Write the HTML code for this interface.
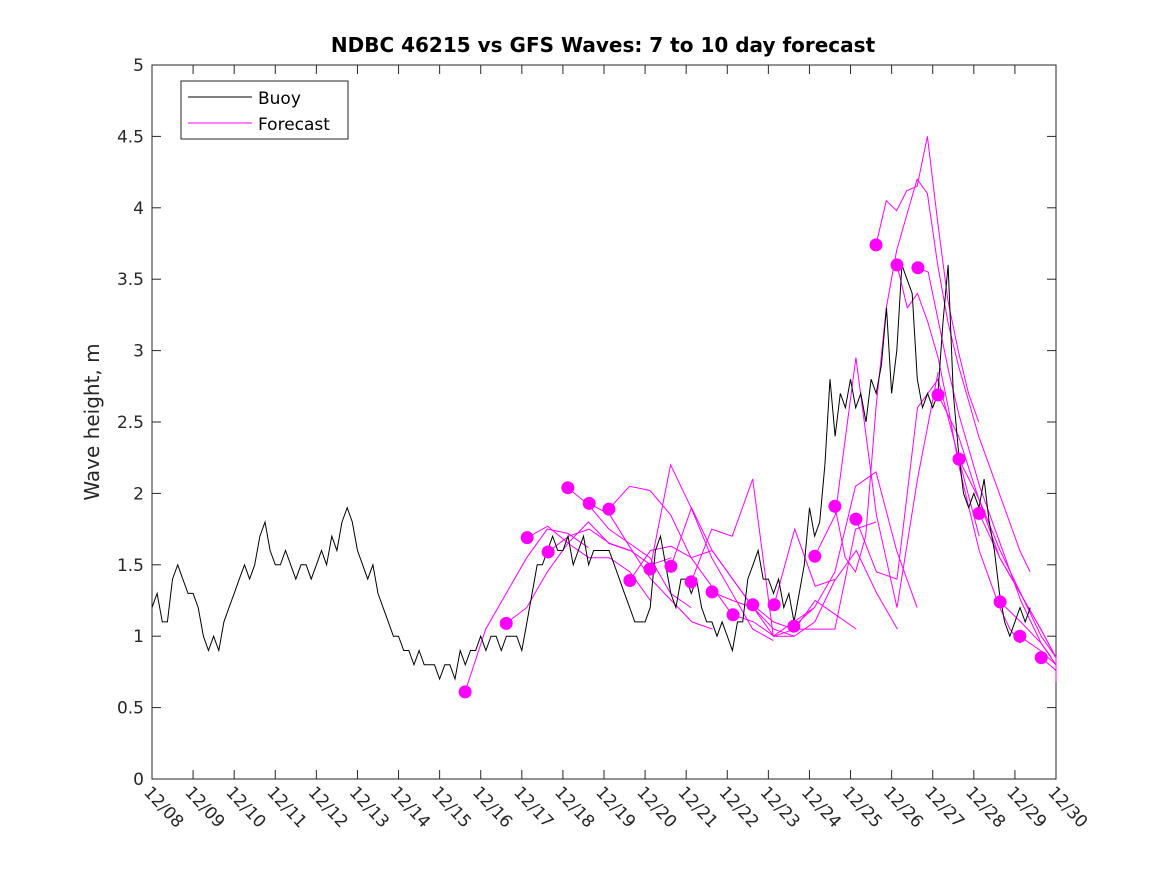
<!DOCTYPE html>
<html><head><meta charset="utf-8"><style>
html,body{margin:0;padding:0;background:#fff;}
svg{display:block;font-family:"DejaVu Sans","Liberation Sans",sans-serif;}
</style></head><body>
<svg id="chart" width="1167" height="875" viewBox="0 0 1167 875">
<rect x="0" y="0" width="1167" height="875" fill="#fff"/>
<rect x="152" y="65" width="904" height="714" fill="#fff" stroke="#262626" stroke-width="1"/>
<g id="axes"></g>
<g id="fc"></g>
<g id="buoy"></g>
<g id="dots"></g>
<text x="603" y="52" text-anchor="middle" font-weight="bold" font-size="20" fill="#000">NDBC 46215 vs GFS Waves: 7 to 10 day forecast</text>
<text transform="translate(99,422) rotate(-90)" text-anchor="middle" font-size="20" fill="#262626">Wave height, m</text>
<g>
<rect x="181" y="81" width="167" height="58" fill="#fff" stroke="#262626" stroke-width="1"/>
<line x1="188" y1="97" x2="252" y2="97" stroke="#000" stroke-width="1"/>
<text x="258" y="104" font-size="17" fill="#000">Buoy</text>
<line x1="188" y1="123" x2="252" y2="123" stroke="#f0f" stroke-width="1"/>
<text x="258" y="130" font-size="17" fill="#000">Forecast</text>
</g>
</svg>
<script>
const xTickLabels=["12/08","12/09","12/10","12/11","12/12","12/13","12/14","12/15","12/16","12/17","12/18","12/19","12/20","12/21","12/22","12/23","12/24","12/25","12/26","12/27","12/28","12/29","12/30"];
const yTicks=[0,0.5,1,1.5,2,2.5,3,3.5,4,4.5,5];
const yTickLabels=["0","0.5","1","1.5","2","2.5","3","3.5","4","4.5","5"];
const buoyStepDays=0.125;
const buoyValues=[
1.2,1.3,1.1,1.1,1.4,1.5,1.4,1.3,
1.3,1.2,1.0,0.9,1.0,0.9,1.1,1.2,
1.3,1.4,1.5,1.4,1.5,1.7,1.8,1.6,
1.5,1.5,1.6,1.5,1.4,1.5,1.5,1.4,
1.5,1.6,1.5,1.7,1.6,1.8,1.9,1.8,
1.6,1.5,1.4,1.5,1.3,1.2,1.1,1.0,
1.0,0.9,0.9,0.8,0.9,0.8,0.8,0.8,
0.7,0.8,0.8,0.7,0.9,0.8,0.9,0.9,
1.0,0.9,1.0,1.0,0.9,1.0,1.0,1.0,
0.9,1.1,1.3,1.5,1.5,1.6,1.7,1.6,
1.6,1.7,1.5,1.6,1.7,1.5,1.6,1.6,
1.6,1.6,1.5,1.4,1.3,1.2,1.1,1.1,
1.1,1.2,1.6,1.7,1.5,1.3,1.2,1.4,
1.4,1.3,1.4,1.2,1.1,1.1,1.0,1.1,
1.0,0.9,1.1,1.1,1.4,1.5,1.6,1.4,
1.4,1.3,1.4,1.2,1.3,1.1,1.3,1.5,
1.9,1.7,1.8,2.2,2.8,2.4,2.7,2.6,
2.8,2.6,2.7,2.5,2.8,2.7,2.9,3.3,
2.7,3.0,3.6,3.5,3.4,2.8,2.6,2.7,
2.6,2.7,3.2,3.6,2.7,2.3,2.0,1.9,
2.0,1.9,2.1,1.8,1.6,1.3,1.1,1.0,
1.1,1.2,1.1,1.2];
const dotDays=[7.62,8.62,9.13,9.64,10.12,10.64,11.12,11.63,12.12,12.63,13.12,13.63,14.14,14.62,15.14,15.62,16.13,16.62,17.13,17.62,18.13,18.64,19.13,19.64,20.13,20.64,21.12,21.64];
const dotValues=[0.61,1.09,1.69,1.59,2.04,1.93,1.89,1.39,1.47,1.49,1.38,1.31,1.15,1.22,1.22,1.07,1.56,1.91,1.82,3.74,3.60,3.58,2.69,2.24,1.86,1.24,1.00,0.85];
const fcSteps=[0.5,0.5,0.5,0.5,0.5,0.5,0.5,0.5,0.5,0.5,0.5,0.5,0.5,0.5,0.5,0.5,0.5,0.25,0.5,0.25,0.25,0.25,0.5,0.5,0.5,0.5,0.5,0.5];
const fc0=[0.61,1.05,1.30,1.55,1.75,1.72,1.62];
const fc1=[1.09,1.20,1.45,1.65,1.80,1.65,1.60];
const fc2=[1.69,1.77,1.65,1.55,1.55,1.45,1.25];
const fc3=[1.59,1.70,1.75,1.65,1.60,1.50,1.55];
const fc4=[2.04,1.92,1.75,1.65,1.55,1.30,1.20];
const fc5=[1.93,1.85,1.62,1.40,1.25,1.10,1.05];
const fc6=[1.89,2.05,2.02,1.85,1.55,1.35,1.15];
const fc7=[1.39,1.60,1.63,1.55,1.60,1.40,1.20];
const fc8=[1.47,2.20,1.90,1.55,1.30,1.05,0.97];
const fc9=[1.49,1.90,1.60,1.40,1.20,1.00,1.00];
const fc10=[1.38,1.75,1.70,2.10,1.00,1.10,1.20];
const fc11=[1.31,1.25,1.20,1.05,1.00,1.10,1.40];
const fc12=[1.15,1.10,1.00,1.05,1.25,1.15,1.05];
const fc13=[1.22,1.10,1.05,1.05,1.05,1.75,1.80];
const fc14=[1.22,1.75,1.35,1.40,1.60,1.30,1.05];
const fc15=[1.07,1.20,1.45,2.05,2.15,1.60,1.20];
const fc16=[1.56,1.85,2.95,1.85,1.20,2.10,2.85];
const fc17=[1.91,1.55,1.45,1.70,2.60,3.30,3.70,3.95,4.20,4.10,3.60,3.20,2.90,2.65,2.40,2.20,2.00,1.80,1.60,1.45];
const fc18=[1.82,1.45,1.40,2.60,2.80,2.25,1.70];
const fc19=[3.74,4.05,3.98,4.12,4.15,4.50,3.90,3.35,3.00,2.70,2.50];
const fc20=[3.60,3.30,3.40,3.20,2.95,2.60,2.20,1.90,1.60,1.40,1.20,1.05,0.95];
const fc21=[3.58,3.55,3.20,2.85,2.55,2.30,2.05,1.85,1.65,1.45,1.25,1.10,0.95,0.85];
const fc22=[2.69,2.40,1.95,1.55,1.30,1.05,0.85,0.70];
const fc23=[2.24,1.95,1.60,1.30,1.00,0.85,0.75];
const fc24=[1.86,1.55,1.30,1.05,0.85,0.70];
const fc25=[1.24,1.10,0.95,0.80,0.70];
const fc26=[1.00,0.90,0.80,0.68];
const fc27=[0.85,0.76,0.70];
const forecasts=[fc0,fc1,fc2,fc3,fc4,fc5,fc6,fc7,fc8,fc9,fc10,fc11,fc12,fc13,fc14,fc15,fc16,fc17,fc18,fc19,fc20,fc21,fc22,fc23,fc24,fc25,fc26,fc27];

const X0=152,X1=1056,Y0=779,Y1=65,DAYS=22,YMAX=5;
function xs(d){return X0+(X1-X0)*d/DAYS;}
function ys(v){return Y0-(Y0-Y1)*v/YMAX;}
const NS="http://www.w3.org/2000/svg";
function mk(tag,attrs,parent){const e=document.createElementNS(NS,tag);for(const k in attrs)e.setAttribute(k,attrs[k]);parent.appendChild(e);return e;}
const axes=document.getElementById('axes');
xTickLabels.forEach((lab,i)=>{
  const x=xs(i);
  let t=mk('line',{x1:x,y1:Y0,x2:x,y2:Y0-9,stroke:'#262626','stroke-width':1},axes);
  
  
  let t2=mk('line',{x1:x,y1:Y1,x2:x,y2:Y1+9,stroke:'#262626','stroke-width':1},axes);
  
  
  let tx=mk('text',{transform:`translate(${x-9},${Y0+14}) rotate(47)`,'font-size':17,fill:'#262626'},axes);
  tx.textContent=lab;
  
  
});
yTicks.forEach((v,i)=>{
  const y=ys(v);
  let t=mk('line',{x1:X0,y1:y,x2:X0+9,y2:y,stroke:'#262626','stroke-width':1},axes);
  
  
  let t2=mk('line',{x1:X1,y1:y,x2:X1-9,y2:y,stroke:'#262626','stroke-width':1},axes);
  
  
  let tx=mk('text',{x:X0-8,y:y+6,'text-anchor':'end','font-size':17,fill:'#262626'},axes);
  tx.textContent=yTickLabels[i];
  
  
});
const fc=document.getElementById('fc');
forecasts.forEach((arr,i)=>{
  const d0=dotDays[i], st=fcSteps[i];
  const pts=arr.map((v,j)=>xs(Math.min(DAYS,d0+j*st)).toFixed(1)+','+ys(v).toFixed(1)).join(' ');
  let p=mk('polyline',{points:pts,fill:'none',stroke:'#f0f','stroke-width':1},fc);
  
  
});
const buoy=document.getElementById('buoy');
let bp=[];
buoyValues.forEach((v,i)=>{bp.push(xs(i*buoyStepDays).toFixed(1)+','+ys(v).toFixed(1));});
let bl=mk('polyline',{points:bp.join(' '),fill:'none',stroke:'#000','stroke-width':1},buoy);


const dots=document.getElementById('dots');
dotValues.forEach((v,i)=>{
  let c=mk('circle',{cx:xs(dotDays[i]),cy:ys(v),r:6.5,fill:'#f0f'},dots);
  
  
});
</script>
</body></html>
